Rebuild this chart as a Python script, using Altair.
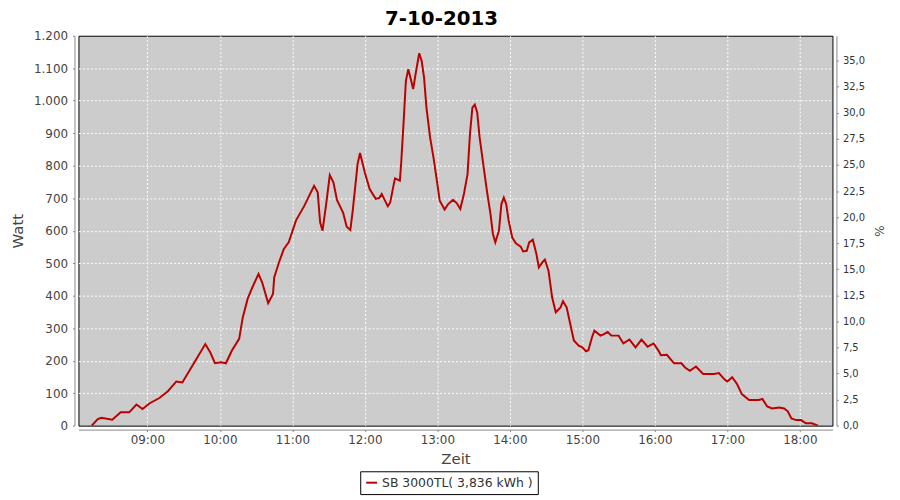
import altair as alt
import pandas as pd

# ---- data ----
times = ["08:14","08:19","08:22","08:31","08:38","08:45","08:51","08:56","09:02","09:10",
         "09:17","09:24","09:29","09:39","09:48","09:52","09:56","10:01","10:05","10:10",
         "10:16","10:19","10:23","10:27","10:32","10:35","10:40","10:44","10:45","10:49",
         "10:53","10:57","11:03","11:10","11:14","11:18","11:21","11:23","11:25","11:28",
         "11:31","11:34","11:37","11:42","11:45","11:48","11:50","11:54","11:56","12:00",
         "12:04","12:09","12:12","12:14","12:16","12:19","12:21","12:24","12:25","12:29",
         "12:30","12:32","12:34","12:36","12:38","12:40","12:42","12:45","12:47","12:49",
         "12:51","12:54","12:57","13:00","13:02","13:06","13:09","13:13","13:16","13:19",
         "13:22","13:25","13:27","13:29","13:31","13:33","13:35","13:38","13:41","13:44",
         "13:46","13:48","13:51","13:53","13:55","13:57","13:59","14:02","14:05","14:09",
         "14:11","14:14","14:16","14:19","14:22","14:24","14:27","14:29","14:32","14:35",
         "14:38","14:42","14:44","14:47","14:50","14:53","14:57","15:00","15:03","15:05",
         "15:08","15:10","15:15","15:17","15:21","15:24","15:30","15:34","15:39","15:44",
         "15:49","15:54","15:59","16:03","16:05","16:10","16:14","16:16","16:22","16:25",
         "16:29","16:34","16:40","16:49","16:53","16:58","17:00","17:04","17:08","17:12",
         "17:18","17:26","17:29","17:33","17:37","17:43","17:47","17:50","17:53","17:57",
         "18:01","18:05","18:10","18:15"]
watts = [0,20,24,18,41,41,65,51,69,85,
         106,136,133,195,251,226,192,195,192,231,
         267,333,390,426,467,441,377,405,456,503,
         544,564,631,677,708,738,718,626,600,682,
         771,749,694,656,612,602,662,805,839,779,
         728,698,701,713,698,675,687,744,761,754,
         803,928,1062,1097,1067,1036,1082,1146,1123,1072,
         979,887,821,744,692,665,682,695,685,667,
         713,774,897,979,988,964,887,805,723,651,
         590,564,600,682,702,682,631,579,561,551,
         536,538,564,572,528,487,503,511,477,395,
         349,364,383,364,313,262,246,241,229,232,
         272,292,277,280,288,277,277,253,265,241,
         265,243,253,231,217,218,200,192,192,179,
         169,182,159,159,162,141,136,149,128,97,
         79,79,82,59,53,56,53,44,22,17,
         17,7,7,0]
series_name = "SB 3000TL( 3,836 kWh )"
watt_ticks = [0,100,200,300,400,500,600,700,800,900,1000,1100,1200]
pct_ticks = [0,2.5,5,7.5,10,12.5,15,17.5,20,22.5,25,27.5,30,32.5,35]
hour_ticks = [9,10,11,12,13,14,15,16,17,18]

df = pd.DataFrame({
    "zeit": ["2013-10-07T" + t for t in times],
    "watt": watts,
    "serie": [series_name] * len(times),
})
pct_df = pd.DataFrame({"pct": pct_ticks})

FONT = "DejaVu Sans"
AX = "#888888"
TXT = "#444444"

x_enc = alt.X(
    "zeit:T",
    title="Zeit",
    scale=alt.Scale(
        domain=[alt.DateTime(year=2013, month=10, date=7, hours=8, minutes=3),
                alt.DateTime(year=2013, month=10, date=7, hours=18, minutes=27)],
        nice=False),
    axis=alt.Axis(
        values=[alt.DateTime(year=2013, month=10, date=7, hours=h) for h in hour_ticks],
        format="%H:%M", offset=4, tickSize=2, labelPadding=3,
        grid=True, gridColor="white", gridDash=[2, 2], gridWidth=1, gridOpacity=1,
        domainColor=AX, tickColor=AX, labelColor=TXT, labelFontSize=12, labelFont=FONT,
        titleFont=FONT, titleFontSize=15, titleFontWeight="normal", titleColor=TXT,
        titlePadding=6),
)

line = alt.Chart(df).mark_line(strokeWidth=2, clip=True).encode(
    x=x_enc,
    y=alt.Y("watt:Q", title="Watt",
            scale=alt.Scale(domain=[0, 1200], nice=False),
            axis=alt.Axis(values=watt_ticks, offset=4, tickSize=2, labelPadding=5,
                          labelExpr="replace(format(datum.value, ','), ',', '.')",
                          grid=True, gridColor="white", gridDash=[2, 2], gridWidth=1,
                          gridOpacity={"condition": {"test": "datum.value <= 0 || datum.value >= 1200",
                                                     "value": 0}, "value": 1},
                          domainColor=AX, tickColor=AX, labelColor=TXT, labelFontSize=12,
                          labelFont=FONT, titleFont=FONT, titleFontSize=15,
                          titleFontWeight="normal", titleColor=TXT, titlePadding=8)),
    color=alt.Color("serie:N",
                    scale=alt.Scale(range=["#bb0000"]),
                    legend=alt.Legend(title=None, orient="none", legendX=284, legendY=439,
                                      direction="horizontal", strokeColor="black",
                                      padding=5, symbolType="stroke", symbolStrokeWidth=2,
                                      symbolSize=120, labelFont=FONT, labelFontSize=12.5,
                                      labelColor="#333333", cornerRadius=0)),
)

right = alt.Chart(pct_df).mark_point(opacity=0).encode(
    y=alt.Y("pct:Q", title="%",
            scale=alt.Scale(domain=[0, 37.4], nice=False),
            axis=alt.Axis(orient="right", values=pct_ticks, offset=4, tickSize=2,
                          labelPadding=4, grid=False,
                          labelExpr="replace(format(datum.value, '.1f'), '.', ',')",
                          domainColor=AX, tickColor=AX, labelColor="#333333",
                          labelFontSize=10, labelFont=FONT, titleFont=FONT,
                          titleFontSize=12, titleFontWeight="normal", titleColor="#333333",
                          titlePadding=7, titleAngle=90)),
)

chart = alt.layer(line, right).resolve_scale(y="independent").properties(
    width=760,
    height=393,
    background="white",
    title=alt.Title("7-10-2013", font=FONT, fontSize=20, fontWeight="bold",
                    color="black", anchor="middle", dx=-14, offset=1),
    autosize=alt.AutoSizeParams(type="none"),
    padding={"left": 71, "top": 26, "right": 60, "bottom": 72},
).configure_view(
    fill="#cccccc", stroke="black", strokeWidth=1
)

chart.save("out.html", embed_options={"renderer": "svg", "actions": False})
